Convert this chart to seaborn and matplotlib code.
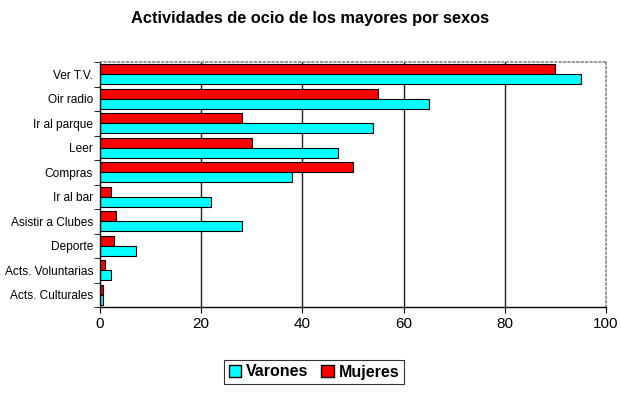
import numpy as np
import pandas as pd
import seaborn as sns
import matplotlib.pyplot as plt
from matplotlib.patches import Patch

actividades = ["Ver T.V.", "Oir radio", "Ir al parque", "Leer", "Compras",
               "Ir al bar", "Asistir a Clubes", "Deporte", "Acts. Voluntarias",
               "Acts. Culturales"]
varones = [95, 65, 54, 47, 38, 22, 28, 7.2, 2.2, 0.5]
mujeres = [90, 55, 28, 30, 50, 2.2, 3.2, 2.8, 1.0, 0.5]
colores = {"Varones": "#00FFFF", "Mujeres": "#FF0000"}

df = pd.DataFrame({
    "actividad": actividades * 2,
    "sexo": ["Varones"] * len(actividades) + ["Mujeres"] * len(actividades),
    "valor": varones + mujeres,
})

sns.set_style("white")
plt.rcParams["font.family"] = ["Liberation Sans", "DejaVu Sans"]
plt.rcParams["text.color"] = "black"
plt.rcParams["xtick.color"] = "black"
plt.rcParams["ytick.color"] = "black"

fig = plt.figure(figsize=(6.21, 3.93), dpi=100)
ax = fig.add_axes([100 / 621, 1 - 307 / 393, 506 / 621, 245 / 393])

sns.barplot(data=df, y="actividad", x="valor", hue="sexo",
            order=actividades, hue_order=["Mujeres", "Varones"],
            palette=colores, saturation=1, orient="h", width=0.8,
            edgecolor="black", linewidth=0.8, legend=False, ax=ax)

ax.set_xlim(0, 100)
ax.set_ylim(len(actividades) - 0.5, -0.5)
ax.set_xticks([0, 20, 40, 60, 80, 100])
ax.tick_params(axis="x", labelsize=11, length=4, color="black", labelcolor="black",
               direction="out", bottom=True)
for xg in [20, 40, 60, 80]:
    ax.axvline(xg, color="#222222", lw=1, zorder=0)

# marcas del eje y entre categorias
ax.set_yticks(np.arange(len(actividades)))
ax.set_yticklabels(actividades, fontsize=8.6)
ax.set_yticks(np.arange(-0.5, len(actividades)), minor=True)
ax.tick_params(axis="y", which="major", length=0, pad=5, labelcolor="black")
ax.tick_params(axis="y", which="minor", length=4, color="black", direction="out", left=True)

ax.set_xlabel("")
ax.set_ylabel("")
for lado in ["left", "bottom"]:
    ax.spines[lado].set_color("black")
    ax.spines[lado].set_linewidth(1)
for lado in ["top", "right"]:
    ax.spines[lado].set_color("#888888")
    ax.spines[lado].set_linestyle(":")
    ax.spines[lado].set_linewidth(1.2)

fig.text(0.5, 1 - 18 / 393, "Actividades de ocio de los mayores por sexos",
         ha="center", va="center", fontsize=11.8, fontweight="bold", color="black")

handles = [Patch(facecolor=colores["Varones"], edgecolor="black", label="Varones"),
           Patch(facecolor=colores["Mujeres"], edgecolor="black", label="Mujeres")]
leg = fig.legend(handles=handles, loc="center", bbox_to_anchor=(314 / 621, 1 - 372 / 393),
                 ncol=2, frameon=True, fancybox=False, handlelength=0.8, handleheight=0.8,
                 handletextpad=0.3, columnspacing=0.8, borderpad=0.3,
                 prop={"size": 11.5, "weight": "bold"})
leg.get_frame().set_edgecolor("black")
leg.get_frame().set_linewidth(0.8)
for t in leg.get_texts():
    t.set_color("black")

fig.savefig("out.png", dpi=100)
